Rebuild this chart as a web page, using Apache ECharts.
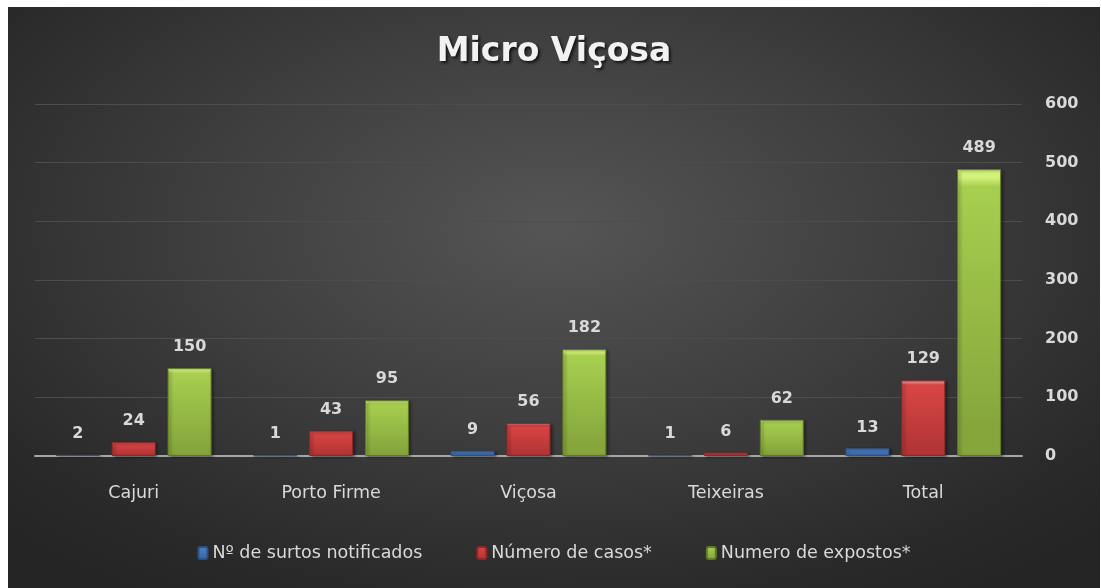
<!DOCTYPE html>
<html>
<head>
<meta charset="utf-8">
<script src="https://cdn.jsdelivr.net/npm/echarts@6/dist/echarts.min.js"></script>
<style>
  html, body { margin: 0; padding: 0; background: #fff; }
  #chart {
    position: absolute; left: 8px; top: 7px; width: 1092px; height: 581px;
    background: radial-gradient(ellipse 70% 75% at 50% 38%, #555555 0%, #3f3f3f 45%, #2a2a2a 85%, #252525 100%);
  }
</style>
</head>
<body>
<div id="chart"></div>
<script>
// dados
const categories = ["Cajuri", "Porto Firme", "Viçosa", "Teixeiras", "Total"];
const surtos = [2, 1, 9, 1, 13];
const casos = [24, 43, 56, 6, 129];
const expostos = [150, 95, 182, 62, 489];
const seriesNames = ["Nº de surtos notificados", "Número de casos*", "Numero de expostos*"];

const chart = echarts.init(document.getElementById("chart"));

function bevel(light, base, dark, edge) {
  return {
    color: new echarts.graphic.LinearGradient(0, 0, 0, 1, [
      { offset: 0, color: light },
      { offset: 0.03, color: light },
      { offset: 0.06, color: base },
      { offset: 0.9, color: dark },
      { offset: 1, color: dark }
    ]),
    borderColor: edge,
    borderWidth: 1,
    shadowColor: "rgba(0,0,0,0.45)",
    shadowBlur: 3,
    shadowOffsetX: 2,
    shadowOffsetY: 1
  };
}

const labelStyle = {
  show: true,
  position: "top",
  distance: 13,
  color: "#d9d9d9",
  fontFamily: "DejaVu Sans",
  fontWeight: "bold",
  fontSize: 16
};

const option = {
  animation: false,
  title: {
    text: "Micro Viçosa",
    left: "center",
    top: 24,
    textStyle: {
      color: "#f2f2f2",
      fontFamily: "DejaVu Sans",
      fontWeight: "bold",
      fontSize: 33,
      textShadowColor: "rgba(0,0,0,0.7)",
      textShadowBlur: 3,
      textShadowOffsetX: 2,
      textShadowOffsetY: 2
    }
  },
  legend: {
    bottom: 21,
    left: "center",
    itemWidth: 9,
    itemHeight: 12,
    itemGap: 54,
    textStyle: { color: "#d9d9d9", fontFamily: "DejaVu Sans", fontSize: 17.5 },
    data: seriesNames
  },
  grid: { left: 27, right: 78, top: 97, bottom: 132 },
  xAxis: {
    type: "category",
    data: categories,
    axisTick: { show: false },
    axisLine: { lineStyle: { color: "#a6a6a6", width: 2 } },
    axisLabel: { color: "#d9d9d9", fontFamily: "DejaVu Sans", fontSize: 17.5, margin: 28 }
  },
  yAxis: {
    type: "value",
    position: "right",
    min: 0,
    max: 600,
    interval: 100,
    axisLine: { show: false },
    axisTick: { show: false },
    splitLine: { lineStyle: { color: "#4d4d4d", width: 1 } },
    axisLabel: {
      color: "#d9d9d9", fontFamily: "DejaVu Sans", fontWeight: "bold",
      fontSize: 16, margin: 23, align: "left"
    }
  },
  series: [
    {
      name: seriesNames[0], type: "bar", data: surtos,
      barWidth: 44, barGap: "27%",
      itemStyle: bevel("#7fb0ec", "#4a7fc4", "#3a68a6", "#2c5286"),
      label: labelStyle
    },
    {
      name: seriesNames[1], type: "bar", data: casos,
      barWidth: 44, barGap: "27%",
      itemStyle: bevel("#f58a8a", "#da4545", "#b33535", "#8e2828"),
      label: labelStyle
    },
    {
      name: seriesNames[2], type: "bar", data: expostos,
      barWidth: 44, barGap: "27%",
      itemStyle: bevel("#d4f27a", "#a7cf4f", "#86a63c", "#5f7a28"),
      label: labelStyle
    }
  ]
};
chart.setOption(option);
</script>
</body>
</html>
